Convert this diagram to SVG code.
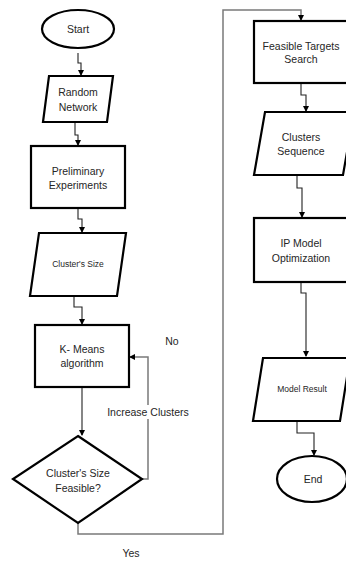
<svg xmlns="http://www.w3.org/2000/svg" width="346" height="567" viewBox="0 0 346 567">
  <style>
    .shape { fill: #fff; stroke: #000; stroke-width: 2.2; }
    .lbl { font-family: "Liberation Sans", Arial, sans-serif; font-size: 10.5px; fill: #262626; text-anchor: middle; dominant-baseline: central; }
    .sm { font-size: 8.5px; }
    .flow { fill: none; stroke: #222; stroke-width: 1.1; }
    .grey { fill: none; stroke: #7a7a7a; stroke-width: 1.5; }
  </style>
  <defs>
    <marker id="arr" markerWidth="6" markerHeight="6" refX="5" refY="3" orient="auto" markerUnits="userSpaceOnUse">
      <path d="M0,0 L6,3 L0,6 Z" fill="#000"/>
    </marker>
  </defs>
  <rect width="346" height="567" fill="#fff"/>

  <!-- connectors -->
  <g id="connectors">
    <path class="flow" d="M78,53 V63 H81 V75" marker-end="url(#arr)"/>
    <path class="flow" d="M75,122 V135 H78 V145" marker-end="url(#arr)"/>
    <path class="flow" d="M78,208 V219 H82 V232" marker-end="url(#arr)"/>
    <path class="flow" d="M74,296 V307 H82 V324" marker-end="url(#arr)"/>
    <path class="flow" d="M82,387 V435" marker-end="url(#arr)"/>
    <path class="grey" d="M142,479 H148 V357 H130" marker-end="url(#arr)"/>
    <path class="grey" d="M78,523 V534 H223 V10 H301 V20" marker-end="url(#arr)"/>
    <path class="flow" d="M301,83 V95 H306 V111" marker-end="url(#arr)"/>
    <path class="flow" d="M297,175 V188 H302 V217" marker-end="url(#arr)"/>
    <path class="flow" d="M301,282 V293 H306 V356" marker-end="url(#arr)"/>
    <path class="flow" d="M297,421 V433 H314 V455" marker-end="url(#arr)"/>
    <rect x="106" y="405" width="84" height="14" fill="#fff"/>
    <text class="lbl" x="148" y="412">Increase Clusters</text>
    <text class="lbl" x="172" y="341">No</text>
    <text class="lbl" x="131" y="553">Yes</text>
  </g>

  <g id="start">
    <ellipse class="shape" cx="78" cy="29" rx="36" ry="19"/>
    <text class="lbl" x="78" y="29">Start</text>
  </g>

  <g id="random-network">
    <polygon class="shape" points="49,76 113,76 107,122 43,122"/>
    <text class="lbl" x="78" y="92">Random</text>
    <text class="lbl" x="78" y="107">Network</text>
  </g>

  <g id="preliminary-experiments">
    <rect class="shape" x="31" y="146" width="94" height="62"/>
    <text class="lbl" x="78" y="171">Preliminary</text>
    <text class="lbl" x="78" y="185">Experiments</text>
  </g>

  <g id="clusters-size">
    <polygon class="shape" points="39,233 126,233 117,296 30,296"/>
    <text class="lbl sm" x="78" y="264">Cluster's Size</text>
  </g>

  <g id="k-means">
    <rect class="shape" x="35" y="325" width="94" height="62"/>
    <text class="lbl" x="82" y="349">K- Means</text>
    <text class="lbl" x="82" y="363">algorithm</text>
  </g>

  <g id="size-feasible">
    <polygon class="shape" points="78,436 142,479 78,523 13,479"/>
    <text class="lbl" x="78" y="473">Cluster's Size</text>
    <text class="lbl" x="78" y="488">Feasible?</text>
  </g>

  <g id="feasible-targets">
    <rect class="shape" x="254" y="21" width="96" height="62"/>
    <text class="lbl" x="301" y="46">Feasible Targets</text>
    <text class="lbl" x="301" y="59">Search</text>
  </g>

  <g id="clusters-sequence">
    <polygon class="shape" points="265,112 354,112 343,175 254,175"/>
    <text class="lbl" x="301" y="137">Clusters</text>
    <text class="lbl" x="301" y="151">Sequence</text>
  </g>

  <g id="ip-model">
    <rect class="shape" x="254" y="218" width="96" height="64"/>
    <text class="lbl" x="301" y="243">IP Model</text>
    <text class="lbl" x="301" y="258">Optimization</text>
  </g>

  <g id="model-result">
    <polygon class="shape" points="263,358 350,358 340,421 253,421"/>
    <text class="lbl sm" x="302" y="389">Model Result</text>
  </g>

  <g id="end">
    <ellipse class="shape" cx="312" cy="479" rx="35" ry="23"/>
    <text class="lbl" x="313" y="479">End</text>
  </g>
</svg>
